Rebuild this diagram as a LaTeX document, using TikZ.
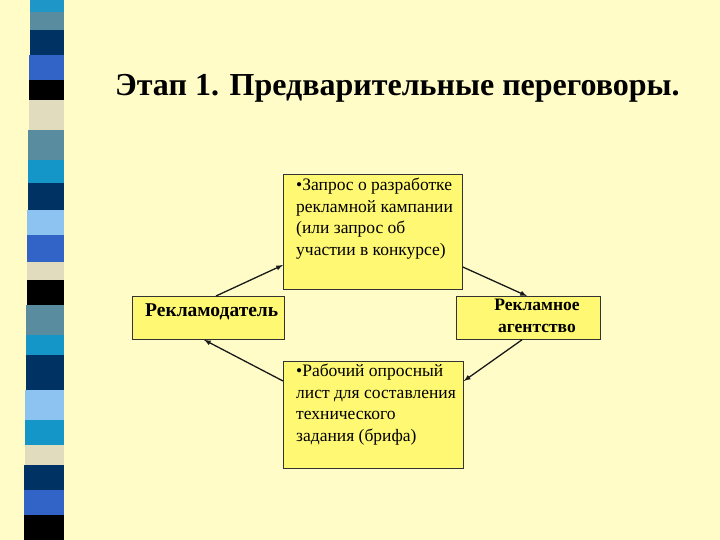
\documentclass[tikz,border=0pt]{standalone}
\usepackage{fontspec}
\setmainfont{Liberation Serif}
\begin{document}
\begin{tikzpicture}[x=1pt,y=-1pt,
  box/.style={draw=black!80,fill=yellow!55!white,line width=0.8pt},
  txt/.style={anchor=north west,align=left,inner sep=0pt,font=\fontsize{17.5}{21.5}\selectfont},
  arr/.style={-latex,line width=1.3pt,black!90}]
\useasboundingbox (0,0) rectangle (720,540);
\fill[yellow!22!white] (0,0) rectangle (720,540);
% stripe
\foreach \a/\b/\c in {0/12/{rgb,255:red,30;green,150;blue,200},12/30/{rgb,255:red,90;green,140;blue,160},30/55/{rgb,255:red,0;green,50;blue,100},55/80/{rgb,255:red,50;green,100;blue,200},80/100/black,100/130/{rgb,255:red,225;green,220;blue,190},130/160/{rgb,255:red,90;green,140;blue,160},160/183/{rgb,255:red,20;green,150;blue,200},183/210/{rgb,255:red,0;green,50;blue,100},210/235/{rgb,255:red,140;green,195;blue,240},235/262/{rgb,255:red,50;green,100;blue,200},262/280/{rgb,255:red,225;green,220;blue,190},280/305/black,305/335/{rgb,255:red,90;green,140;blue,160},335/355/{rgb,255:red,20;green,150;blue,200},355/390/{rgb,255:red,0;green,50;blue,100},390/420/{rgb,255:red,140;green,195;blue,240},420/445/{rgb,255:red,20;green,150;blue,200},445/465/{rgb,255:red,225;green,220;blue,190},465/490/{rgb,255:red,0;green,50;blue,100},490/515/{rgb,255:red,50;green,100;blue,200},515/540/black}
  {\fill[color=\c] ({30-\a*0.012},\a) rectangle (64,\b);}
\node[anchor=base west,font=\bfseries\fontsize{32}{36}\selectfont,inner sep=0pt] (title) at (115,96) {Этап 1. Предварительные переговоры.};
% boxes
\node[box,minimum width=179pt,minimum height=115pt,anchor=north west,inner sep=0pt] (top) at (283,174) {};
\node[box,minimum width=152pt,minimum height=43pt,anchor=north west,inner sep=0pt] (left) at (132,296) {};
\node[box,minimum width=144pt,minimum height=43pt,anchor=north west,inner sep=0pt] (right) at (456,296) {};
\node[box,minimum width=180pt,minimum height=107pt,anchor=north west,inner sep=0pt] (bot) at (283,361) {};
\node[txt] (toptxt) at (296,178) {•Запрос о разработке\\рекламной кампании\\(или запрос об\\участии в конкурсе)};
\node[txt] (bottxt) at (296,364) {•Рабочий опросный\\лист для составления\\технического\\задания (брифа)};
\node[anchor=base west,font=\bfseries\fontsize{19.5}{22}\selectfont,inner sep=0pt] (lefttxt) at (145,316) {Рекламодатель};
\node[align=center,font=\bfseries\fontsize{17.5}{21.5}\selectfont,inner sep=0pt] (righttxt) at (537,316) {Рекламное\\агентство};
% arrows
\draw[arr] (left.north -| 216,0) -- (top.west |- 0,265);
\draw[arr] (top.east |- 0,267) -- (right.north -| 527,0);
\draw[arr] (right.south -| 522,0) -- (bot.east |- 0,381);
\draw[arr] (bot.west |- 0,381) -- (left.south -| 204,0);
\end{tikzpicture}
\end{document}
